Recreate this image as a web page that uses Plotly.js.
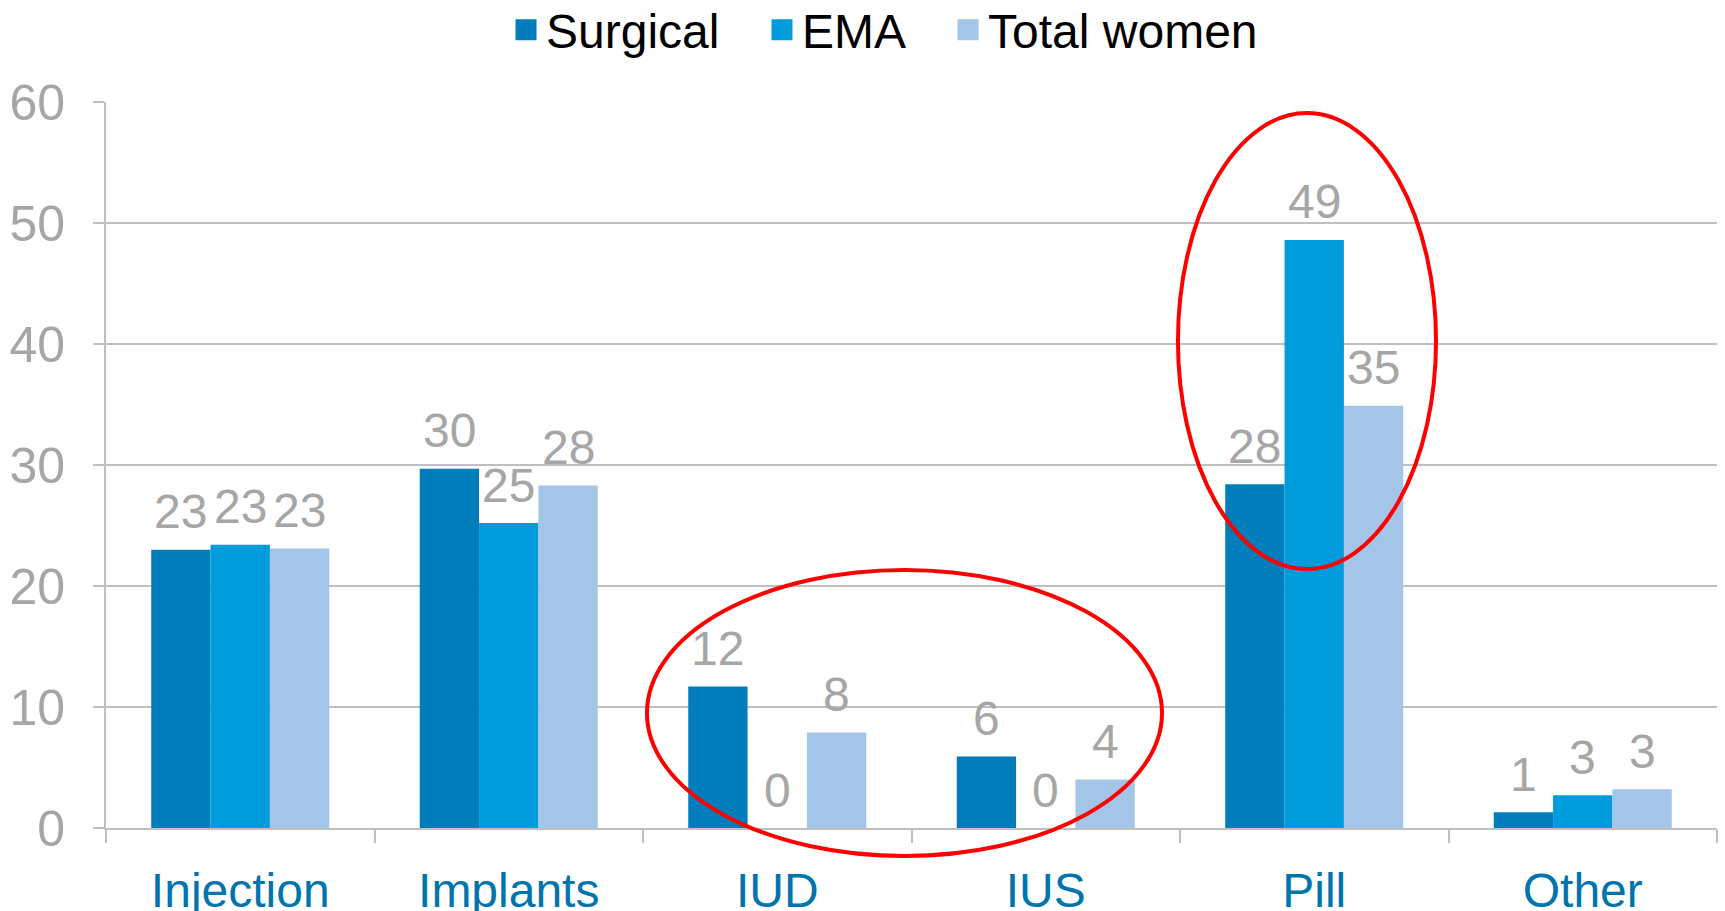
<!DOCTYPE html>
<html>
<head>
<meta charset="utf-8">
<script src="https://cdn.plot.ly/plotly-3.0.1.min.js"></script>
<style>html,body{margin:0;padding:0;background:#fff;}#chart{width:1725px;height:911px;}</style>
</head>
<body>
<div id="chart"></div>
<script>
const categories = ["Injection", "Implants", "IUD", "IUS", "Pill", "Other"];
const seriesNames = ["Surgical", "EMA", "Total women"];
const surgical = [23.0, 29.7, 11.7, 5.9, 28.4, 1.3];
const ema = [23.4, 25.2, 0, 0, 48.6, 2.7];
const totalWomen = [23.1, 28.3, 7.9, 4.0, 34.9, 3.2];
const yTicks = [0, 10, 20, 30, 40, 50, 60];

const seriesValues = [surgical, ema, totalWomen];
const colors = ["#007DBA", "#009BDB", "#A3C6E8"];
const grey = "#A6A6A6";
const font = "Liberation Sans, Arial, sans-serif";
const bargap = 0.337;
const legendIds = ["legend", "legend2", "legend3"];
const legendX = [0.2483, 0.4072, 0.5227];

const traces = [];
seriesValues.forEach((vals, j) => {
  traces.push({
    type: "bar", x: categories, y: vals, name: seriesNames[j],
    marker: {color: colors[j]}, showlegend: false, hoverinfo: "x+y"
  });
});
// legend entries (larger square symbols)
seriesValues.forEach((vals, j) => {
  traces.push({
    type: "scatter", mode: "markers", x: [null], y: [null], name: seriesNames[j],
    legend: legendIds[j],
    marker: {symbol: "square", size: 16, color: colors[j], line: {color: colors[j], width: 5}},
    hoverinfo: "skip"
  });
});

const w = (1 - bargap) / 3;
const annotations = [];
seriesValues.forEach((vals, j) => {
  vals.forEach((v, i) => {
    annotations.push({
      x: i + (j - 1) * w, y: v, xref: "x", yref: "y",
      text: String(Math.round(v)), showarrow: false,
      yanchor: "middle", xanchor: "center", yshift: 38,
      font: {family: font, size: 48, color: grey}
    });
  });
});

const layout = {
  width: 1725, height: 911,
  margin: {l: 106, r: 8, t: 102, b: 83, autoexpand: false},
  paper_bgcolor: "#fff", plot_bgcolor: "#fff",
  barmode: "group", bargap: bargap, bargroupgap: 0,
  font: {family: font},
  showlegend: true,
  xaxis: {
    type: "category", range: [-0.5, 5.5],
    showline: true, linecolor: "#BFBFBF", linewidth: 2,
    ticks: "outside", tickson: "boundaries", ticklen: 13, tickcolor: "#BFBFBF", tickwidth: 2,
    tickfont: {family: font, size: 48, color: "#0075AD"},
    ticklabelstandoff: 19,
    showgrid: false, zeroline: false, fixedrange: true
  },
  yaxis: {
    range: [0, 60], tickvals: yTicks, ticktext: yTicks.map(String),
    showline: true, linecolor: "#BFBFBF", linewidth: 2,
    ticks: "outside", ticklen: 11, tickcolor: "#BFBFBF", tickwidth: 2,
    tickfont: {family: font, size: 50, color: grey},
    ticklabelstandoff: 18,
    showgrid: true, gridcolor: "#BFBFBF", gridwidth: 2,
    zeroline: false, fixedrange: true
  },
  annotations: annotations,
  shapes: [
    {type: "circle", xref: "paper", yref: "paper", x0: 0.3358, x1: 0.6555, y0: -0.0386, y1: 0.3554,
     line: {color: "#FF0000", width: 4}, fillcolor: "rgba(0,0,0,0)", layer: "above"},
    {type: "circle", xref: "paper", yref: "paper", x0: 0.6654, x1: 0.8256, y0: 0.3567, y1: 0.9848,
     line: {color: "#FF0000", width: 4}, fillcolor: "rgba(0,0,0,0)", layer: "above"}
  ]
};
legendIds.forEach((id, j) => {
  layout[id] = {
    orientation: "h", x: legendX[j], xanchor: "left", xref: "paper",
    y: 0.967, yanchor: "middle", yref: "container",
    font: {family: font, size: 48, color: "#000"}, itemclick: false,
    bgcolor: "rgba(0,0,0,0)"
  };
});

Plotly.newPlot("chart", traces, layout, {displayModeBar: false, staticPlot: true});
</script>
</body>
</html>
